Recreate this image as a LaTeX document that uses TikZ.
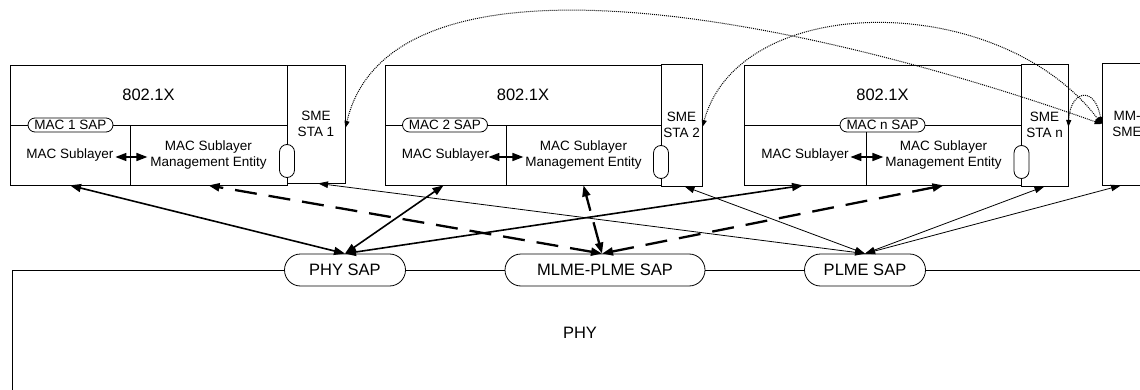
\documentclass[tikz,border=0pt]{standalone}
\usepackage{fontspec}
\setmainfont{Liberation Sans}
\usetikzlibrary{arrows.meta}

\begin{document}
\begin{tikzpicture}[x=1pt, y=-1pt, line width=0.8pt,
    box/.style={draw, inner sep=1pt, align=center, font=\fontsize{13.5}{15.5}\selectfont},
    bigbox/.style={box, font=\fontsize{16.5}{19}\selectfont},
    macsap/.style={draw, fill=white, rounded corners=7pt, minimum width=85pt,
        minimum height=14pt, inner sep=0pt, font=\fontsize{13.5}{14}\selectfont},
    physap/.style={draw, fill=white, rounded corners=16pt, minimum height=32pt,
        inner sep=0pt, font=\fontsize{16.5}{19}\selectfont},
    smesap/.style={draw, fill=white, rounded corners=7.5pt, minimum width=15pt,
        minimum height=33pt, inner sep=0pt},
    thick conn/.style={{Triangle[length=11pt,width=8pt]}-{Triangle[length=11pt,width=8pt]}, line width=1.6pt},
    dash conn/.style={thick conn, line width=2.3pt, dash pattern=on 22pt off 12pt},
    thin conn/.style={{Triangle[length=10pt,width=6.5pt]}-{Triangle[length=10pt,width=6.5pt]}, line width=0.8pt},
    dot conn/.style={{Triangle[length=7pt,width=5pt]}-{Triangle[length=7pt,width=5pt]},
        line width=1pt, dash pattern=on 1pt off 1pt}]
    \useasboundingbox (0,0) rectangle (1140,390);
    \clip (0,0) rectangle (1140,390);

    % PHY
    \draw (12,270) rectangle (1170,430);
    \node (phy) at (580,333) {\fontsize{16.5}{19}\selectfont PHY};
    \node[physap, minimum width=121pt] (physap) at (345,270) {PHY SAP};
    \node[physap, minimum width=200pt] (mlmesap) at (605,270) {MLME-PLME SAP};
    \node[physap, minimum width=121pt] (plmesap) at (865,270) {PLME SAP};

    % station 1
    \node[bigbox, minimum width=277pt, minimum height=60pt] (dotx1) at (148.5,95) {802.1X};
    \node[box, minimum width=120pt, minimum height=60pt] (mac1) at (70,155) {MAC Sublayer};
    \node[box, minimum width=157pt, minimum height=60pt] (mlme1) at (208.5,155)
        {MAC Sublayer\\Management Entity};
    \node[box, minimum width=58pt, minimum height=118pt] (sme1) at (316,124) {SME\\STA 1};
    \node[macsap] (macsap1) at (70.5,125) {MAC 1 SAP};
    \node[smesap] (smesap1) at (287,161) {};
    \draw[thick conn] ([xshift=-15pt,yshift=-2pt]mac1.east) -- ([xshift=17pt,yshift=-2pt]mac1.east);

    % station 2
    \node[bigbox, minimum width=276pt, minimum height=60pt] (dotx2) at (523,95) {802.1X};
    \node[box, minimum width=121pt, minimum height=60pt] (mac2) at (445.5,155) {MAC Sublayer};
    \node[box, minimum width=155pt, minimum height=60pt] (mlme2) at (583.5,155)
        {MAC Sublayer\\Management Entity};
    \node[box, minimum width=41pt, minimum height=122pt] (sme2) at (681.5,125) {SME\\STA 2};
    \node[macsap] (macsap2) at (445,125) {MAC 2 SAP};
    \node[smesap] (smesap2) at (661,162) {};
    \draw[thick conn] ([xshift=-18pt,yshift=-2pt]mac2.east) -- ([xshift=17pt,yshift=-2pt]mac2.east);

    % station n
    \node[bigbox, minimum width=277pt, minimum height=60pt] (dotx3) at (882.5,95) {802.1X};
    \node[box, minimum width=122pt, minimum height=60pt] (mac3) at (805,155) {MAC Sublayer};
    \node[box, minimum width=155pt, minimum height=60pt] (mlme3) at (943.5,155)
        {MAC Sublayer\\Management Entity};
    \node[box, minimum width=47pt, minimum height=122pt] (sme3) at (1044.5,125) {SME\\STA n};
    \node[macsap] (macsap3) at (882.5,125) {MAC n SAP};
    \node[smesap] (smesap3) at (1021.5,162) {};
    \draw[thick conn] ([xshift=-16pt,yshift=-2pt]mac3.east) -- ([xshift=17pt,yshift=-2pt]mac3.east);

    % MM-SME
    \node[box, minimum width=50pt, minimum height=122pt] (mmsme) at (1127,124) {MM-\\SME};

    % data path
    \draw[thick conn] (physap.north) -- (mac1.south);
    \draw[thick conn] (physap.north) -- ([xshift=-2pt]mac2.south);
    \draw[thick conn] (physap.north) -- ([xshift=-2pt]mac3.south);
    % MLME - PLME
    \draw[dash conn] ([xshift=-3pt]mlmesap.north) -- (mlme1.south);
    \draw[dash conn] ([xshift=-3pt]mlmesap.north) -- (mlme2.south);
    \draw[dash conn] ([xshift=-3pt]mlmesap.north) -- (mlme3.south);
    % PLME
    \draw[thin conn] (plmesap.north) -- ([xshift=2pt]sme1.south);
    \draw[thin conn] (plmesap.north) -- ([xshift=3pt]sme2.south);
    \draw[thin conn] (plmesap.north) -- (sme3.south);
    \draw[thin conn] (plmesap.north) -- ([xshift=-6pt]mmsme.south);

    % MM-SME to the SMEs
    \draw[dot conn] (mmsme.west) .. controls (780,10) and (390,-60) .. ([yshift=-4pt]sme1.east);
    \draw[dot conn] (mmsme.west) .. controls (1000,-10) and (740,-10) .. ([yshift=-2pt]sme2.east);
    \draw[dot conn] (mmsme.west) .. controls (1095,85) and (1070,90) .. ([yshift=-2pt]sme3.east);
\end{tikzpicture}
\end{document}
